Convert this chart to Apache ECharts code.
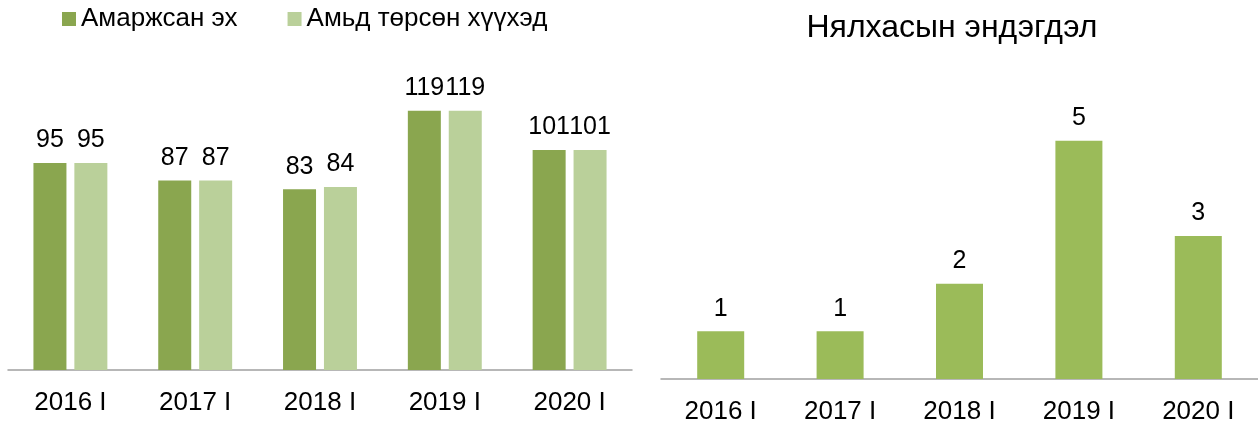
<!DOCTYPE html>
<html>
<head>
<meta charset="utf-8">
<script src="https://cdn.jsdelivr.net/npm/echarts@6/dist/echarts.min.js"></script>
<style>
  html, body { margin: 0; padding: 0; background: #fff; }
  #main { width: 1258px; height: 425px; }
</style>
</head>
<body>
<div id="main"></div>
<script>
// 数据
const years = ['2016 I', '2017 I', '2018 I', '2019 I', '2020 I'];
const mothers = [95, 87, 83, 119, 101];
const liveBirths = [95, 87, 84, 119, 101];
const infantDeaths = [1, 1, 2, 5, 3];
const seriesNames = ['Амаржсан эх', 'Амьд төрсөн хүүхэд'];
const rightTitle = 'Нялхасын эндэгдэл';

let chartDom = document.getElementById('main');
let myChart = echarts.init(chartDom);
let option;

const font = 'Liberation Sans, Arial, sans-serif';
const axisCommon = {
  type: 'category',
  axisTick: { show: false },
  axisLine: { lineStyle: { color: '#a0a0a0', width: 1.5 } },
  axisLabel: { color: '#000', fontSize: 26, fontFamily: font, margin: 20 }
};
const labelCommon = {
  show: true,
  position: 'top',
  distance: 10,
  color: '#000',
  fontSize: 25,
  fontFamily: font
};

option = {
  animation: false,
  textStyle: { fontFamily: font },
  title: {
    text: rightTitle,
    left: 952,
    top: 12,
    textAlign: 'center',
    padding: 0,
    textStyle: { color: '#000', fontSize: 32, fontWeight: 'normal', fontFamily: font }
  },
  legend: {
    left: 62,
    top: 6,
    padding: 0,
    itemWidth: 14,
    itemHeight: 14,
    itemGap: 50,
    icon: 'rect',
    data: seriesNames,
    textStyle: { color: '#000', fontSize: 26, fontFamily: font }
  },
  grid: [
    { left: 8, top: 65, width: 624, height: 305 },
    { left: 661, top: 93, width: 597, height: 286 }
  ],
  xAxis: [
    Object.assign({ gridIndex: 0, data: years }, axisCommon),
    Object.assign({ gridIndex: 1, data: years }, axisCommon)
  ],
  yAxis: [
    { gridIndex: 0, type: 'value', min: 0, max: 140, show: false },
    { gridIndex: 1, type: 'value', min: 0, max: 6, show: false }
  ],
  series: [
    {
      name: seriesNames[0],
      type: 'bar',
      xAxisIndex: 0,
      yAxisIndex: 0,
      barWidth: 33,
      barGap: '24%',
      itemStyle: { color: '#8aa64f' },
      label: labelCommon,
      data: mothers
    },
    {
      name: seriesNames[1],
      type: 'bar',
      xAxisIndex: 0,
      yAxisIndex: 0,
      barWidth: 33,
      barGap: '24%',
      itemStyle: { color: '#bad09a' },
      label: labelCommon,
      data: liveBirths
    },
    {
      name: rightTitle,
      type: 'bar',
      xAxisIndex: 1,
      yAxisIndex: 1,
      barWidth: 47,
      itemStyle: { color: '#9bbb59' },
      label: labelCommon,
      data: infantDeaths
    }
  ]
};

option && myChart.setOption(option);
</script>
</body>
</html>
